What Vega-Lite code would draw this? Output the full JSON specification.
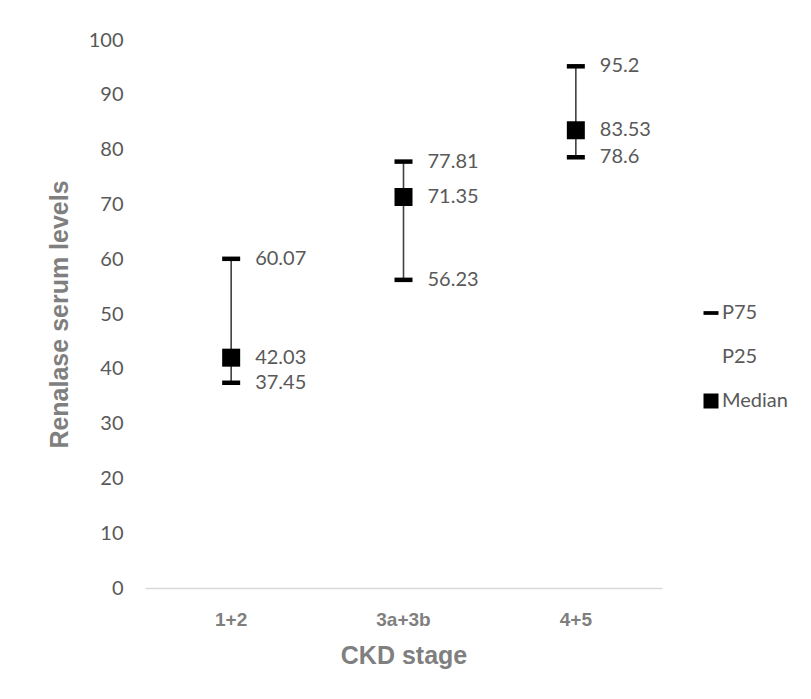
{
  "$schema": "https://vega.github.io/schema/vega-lite/v6.json",
  "autosize": "none",
  "width": 517,
  "height": 548,
  "padding": {"left": 145, "top": 40, "right": 149, "bottom": 111},
  "background": "white",
  "config": {
    "view": {"stroke": null},
    "font": "Lato"
  },
  "data": {
    "values": [
      {"stage": "1+2", "P75": 60.07, "P25": 37.45, "Median": 42.03},
      {"stage": "3a+3b", "P75": 77.81, "P25": 56.23, "Median": 71.35},
      {"stage": "4+5", "P75": 95.2, "P25": 78.6, "Median": 83.53}
    ]
  },
  "encoding": {
    "x": {
      "field": "stage",
      "type": "nominal",
      "sort": ["1+2", "3a+3b", "4+5"],
      "scale": {"paddingInner": 0, "paddingOuter": 0},
      "axis": {
        "title": "CKD stage",
        "titleFont": "Liberation Sans",
        "titleFontSize": 25,
        "titleFontWeight": "bold",
        "titleColor": "#7f7f7f",
        "titlePadding": 14,
        "labelAngle": 0,
        "labelFont": "Liberation Sans",
        "labelFontSize": 19,
        "labelFontWeight": "bold",
        "labelColor": "#7f7f7f",
        "labelPadding": 22,
        "ticks": false,
        "domainColor": "#d9d9d9",
        "domainWidth": 1.5,
        "grid": false
      }
    }
  },
  "layer": [
    {
      "mark": {"type": "rule", "color": "#404040", "strokeWidth": 1.6},
      "encoding": {
        "y": {
          "field": "P25",
          "type": "quantitative",
          "scale": {"domain": [0, 100], "nice": false},
          "axis": {
            "title": "Renalase serum levels",
            "titleFont": "Liberation Sans",
            "titleFontSize": 25,
            "titleFontWeight": "bold",
            "titleColor": "#7f7f7f",
            "titlePadding": 16,
            "values": [0, 10, 20, 30, 40, 50, 60, 70, 80, 90, 100],
            "labelFont": "Lato",
            "labelFontSize": 20,
            "labelColor": "#595959",
            "labelPadding": 22,
            "ticks": false,
            "domain": false,
            "grid": false
          }
        },
        "y2": {"field": "P75"}
      }
    },
    {
      "transform": [{"fold": ["P75", "P25", "Median"], "as": ["series", "value"]}],
      "layer": [
        {
          "transform": [{"filter": "datum.series === 'P25'"}],
          "mark": {
            "type": "point",
            "shape": "M-1,-0.25H1V0.25H-1Z",
            "size": 324,
            "filled": true,
            "color": "black",
            "opacity": 1
          },
          "encoding": {
            "y": {"field": "value", "type": "quantitative"}
          }
        },
        {
          "mark": {"type": "point", "filled": true, "opacity": 1, "size": 324, "color": "black"},
          "encoding": {
            "y": {"field": "value", "type": "quantitative"},
            "shape": {
              "field": "series",
              "type": "nominal",
              "scale": {
                "domain": ["P75", "P25", "Median"],
                "range": ["M-1,-0.25H1V0.25H-1Z", "M0,0Z", "square"]
              },
              "legend": {
                "title": null,
                "orient": "none",
                "legendX": 556,
                "legendY": 263,
                "symbolSize": 225,
                "symbolFillColor": "black",
                "symbolStrokeColor": "black",
                "symbolStrokeWidth": 0,
                "symbolOpacity": 1,
                "labelFont": "Lato",
                "labelFontSize": 20,
                "labelColor": "#595959",
                "labelOffset": 1,
                "rowPadding": 24
              }
            }
          }
        },
        {
          "mark": {
            "type": "text",
            "align": "left",
            "baseline": "middle",
            "dx": 24,
            "font": "Lato",
            "fontSize": 20,
            "color": "#595959"
          },
          "encoding": {
            "y": {"field": "value", "type": "quantitative"},
            "text": {"field": "value", "type": "nominal"}
          }
        }
      ]
    }
  ]
}
